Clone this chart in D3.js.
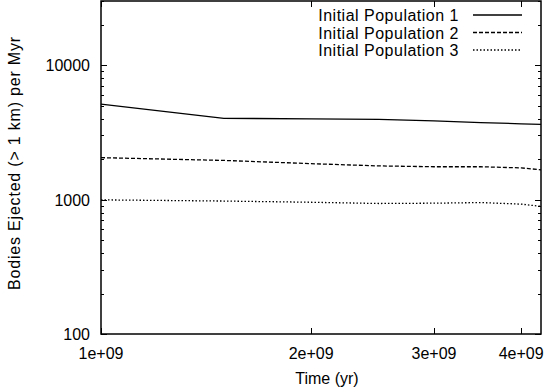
<!DOCTYPE html>
<html>
<head>
<meta charset="utf-8">
<script src="https://cdn.jsdelivr.net/npm/d3@7"></script>
<style>
  body { margin: 0; background: #fff; }
  text { font-family: "Liberation Sans", Arial, Helvetica, sans-serif; font-size: 16px; fill: #000; }
</style>
</head>
<body>
<div id="chart-area"></div>
<script>
// time in years
var times = [1e9, 1.5e9, 2e9, 2.5e9, 3e9, 3.5e9, 4e9, 4.27e9];
var pop1 = [5120, 4020, 3990, 3950, 3850, 3740, 3660, 3630];
var pop2 = [2050, 1955, 1850, 1780, 1755, 1755, 1720, 1665];
var pop3 = [995, 975, 955, 935, 940, 950, 925, 890];
var seriesNames = ["Initial Population 1", "Initial Population 2", "Initial Population 3"];
var xTicks = [1e9, 2e9, 3e9, 4e9];
var xTickLabels = ["1e+09", "2e+09", "3e+09", "4e+09"];
var yTicks = [100, 1000, 10000];
var yTickLabels = ["100", "1000", "10000"];

var W = 548, H = 388;
var mLeft = 101, mRight = 541, mTop = 1, mBottom = 334;

var svg = d3.select("#chart-area").append("svg")
    .attr("width", W)
    .attr("height", H);

var x = d3.scaleLog()
    .domain([1e9, 4.27e9])
    .range([mLeft, mRight]);

var y = d3.scaleLog()
    .domain([100, 30000])
    .range([mBottom, mTop]);

var dashes = [null, "4,2", "1.5,2"];

// minor y ticks (2..9 per decade)
var minorY = [];
[100, 1000, 10000].forEach((d) => {
  for (var k = 2; k <= 9; k++) {
    if (d * k <= 30000) minorY.push(d * k);
  }
});

var ticks = svg.append("g").attr("stroke", "#000").attr("stroke-width", 1);

// y ticks, both sides, inward
minorY.forEach((v) => {
  var yy = Math.round(y(v)) + 0.5;
  ticks.append("line").attr("x1", mLeft).attr("x2", mLeft + 3).attr("y1", yy).attr("y2", yy);
  ticks.append("line").attr("x1", mRight).attr("x2", mRight - 3).attr("y1", yy).attr("y2", yy);
});
yTicks.forEach((v) => {
  var yy = Math.round(y(v)) + 0.5;
  ticks.append("line").attr("x1", mLeft).attr("x2", mLeft + 6).attr("y1", yy).attr("y2", yy);
  ticks.append("line").attr("x1", mRight).attr("x2", mRight - 6).attr("y1", yy).attr("y2", yy);
});
// x ticks, bottom and top
xTicks.forEach((v) => {
  var xx = Math.round(x(v)) + 0.5;
  ticks.append("line").attr("x1", xx).attr("x2", xx).attr("y1", mBottom).attr("y2", mBottom - 6);
  ticks.append("line").attr("x1", xx).attr("x2", xx).attr("y1", mTop).attr("y2", mTop + 6);
});

// tick labels
svg.selectAll(".ylab")
    .data(yTicks)
  .enter().append("text")
    .attr("class", "ylab")
    .attr("x", mLeft - 11)
    .attr("y", (d) => y(d) + 6)
    .attr("text-anchor", "end")
    .text((d, i) => yTickLabels[i]);

svg.selectAll(".xlab")
    .data(xTicks)
  .enter().append("text")
    .attr("class", "xlab")
    .attr("x", (d) => x(d))
    .attr("y", mBottom + 25)
    .attr("text-anchor", "middle")
    .text((d, i) => xTickLabels[i]);

// axis titles
svg.append("text")
    .attr("x", 327)
    .attr("y", 384)
    .attr("text-anchor", "middle")
    .text("Time (yr)");

svg.append("text")
    .attr("transform", "translate(20," + 163 + ") rotate(-90)")
    .attr("text-anchor", "middle")
    .attr("letter-spacing", "0.8px")
    .text("Bodies Ejected (> 1 km) per Myr");

// lines
var line = d3.line()
    .x((d) => x(d[0]))
    .y((d) => y(d[1]));

[pop1, pop2, pop3].forEach((vals, i) => {
  var pts = times.map((t, j) => [t, vals[j]]);
  svg.append("path")
      .datum(pts)
      .attr("d", line)
      .attr("fill", "none")
      .attr("stroke", "#000")
      .attr("stroke-width", 1.3)
      .attr("stroke-dasharray", dashes[i]);
});

// legend
var legend = svg.append("g");
seriesNames.forEach((name, i) => {
  var ly = 15 + i * 17.5;
  legend.append("text")
      .attr("x", 459)
      .attr("y", ly + 6)
      .attr("text-anchor", "end")
      .attr("letter-spacing", "0.5px")
      .text(name);
  legend.append("line")
      .attr("x1", 473).attr("x2", 522)
      .attr("y1", ly).attr("y2", ly)
      .attr("stroke", "#000")
      .attr("stroke-width", 1.3)
      .attr("stroke-dasharray", dashes[i]);
});

// border
svg.append("rect")
    .attr("x", mLeft)
    .attr("y", mTop)
    .attr("width", mRight - mLeft)
    .attr("height", mBottom - mTop)
    .attr("fill", "none")
    .attr("stroke", "#000")
    .attr("stroke-width", 1.5);
</script>
</body>
</html>
